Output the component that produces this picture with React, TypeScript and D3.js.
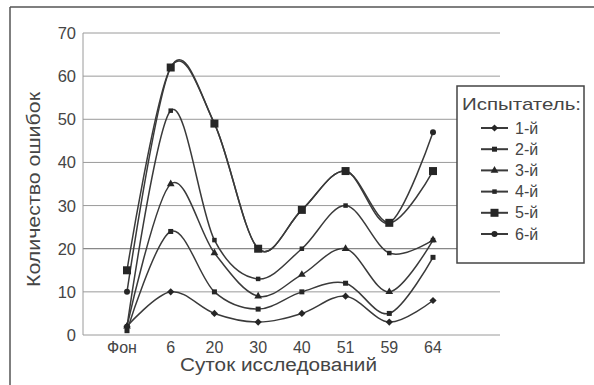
import React from "react";
import * as d3 from "d3";

const categories = ["Фон", "6", "20", "30", "40", "51", "59", "64"];
const yTicks = [0, 10, 20, 30, 40, 50, 60, 70];
const seriesNames = ["1-й", "2-й", "3-й", "4-й", "5-й", "6-й"];
const s1 = [2, 10, 5, 3, 5, 9, 3, 8];
const s2 = [1, 24, 10, 6, 10, 12, 5, 18];
const s3 = [2, 35, 19, 9, 14, 20, 10, 22];
const s4 = [2, 52, 22, 13, 20, 30, 19, 22];
const s5 = [15, 62, 49, 20, 29, 38, 26, 38];
const s6 = [10, 62, 49, 20, 29, 38, 26, 47];
const allSeries = [s1, s2, s3, s4, s5, s6];

const W = 594;
const H = 385;
const LEFT = 83;
const RIGHT = 500;
const TOP = 33;
const BOTTOM = 335;

const FONT = "'Liberation Sans', Arial, sans-serif";
const TEXT = "#454545";
const LINE = "#3a3a3a";
const MARK = "#262626";

function Marker({ idx, x, y }: { idx: number; x: number; y: number }) {
  if (idx === 0) {
    const r = 3.6;
    return <path d={`M${x},${y - r}L${x + r},${y}L${x},${y + r}L${x - r},${y}Z`} fill={MARK} />;
  }
  if (idx === 1 || idx === 3) {
    const s = idx === 1 ? 5 : 4.5;
    return <rect x={x - s / 2} y={y - s / 2} width={s} height={s} fill={MARK} />;
  }
  if (idx === 2) {
    const sym = d3.symbol().type(d3.symbolTriangle).size(26)();
    return <path d={sym || ""} transform={`translate(${x},${y})`} fill={MARK} />;
  }
  if (idx === 4) {
    const s = 8;
    return <rect x={x - s / 2} y={y - s / 2} width={s} height={s} fill={MARK} />;
  }
  return <circle cx={x} cy={y} r={3} fill={MARK} />;
}

export default function App() {
  const x = d3.scalePoint<string>().domain(categories).range([127, 433]);
  const y = d3.scaleLinear().domain([0, 70]).range([BOTTOM, TOP]);
  const line = d3
    .line<number>()
    .x((_, i) => x(categories[i]) as number)
    .y((v) => y(v))
    .curve(d3.curveCardinal.tension(0));

  const drawOrder = [0, 1, 2, 3, 5, 4];
  const legendX = 457;
  const legendY = 86;

  return (
    <svg
      width={W}
      height={H}
      style={{ position: "absolute", left: 0, top: 0, background: "#ffffff" }}
      fontFamily={FONT}
    >
      {/* outer frame (left and top edges) */}
      <line x1={10} y1={7} x2={W} y2={7} stroke="#555" strokeWidth={1.5} />
      <line x1={10} y1={7} x2={10} y2={H} stroke="#555" strokeWidth={1.5} />

      {/* gridlines */}
      {yTicks.map((t) => (
        <line
          key={"g" + t}
          x1={LEFT}
          x2={RIGHT}
          y1={y(t)}
          y2={y(t)}
          stroke={t === 20 ? "#6a6a6a" : "#9a9a9a"}
          strokeWidth={1}
        />
      ))}
      {/* y axis line */}
      <line x1={LEFT} x2={LEFT} y1={TOP} y2={BOTTOM} stroke="#9a9a9a" strokeWidth={1} />

      {/* y tick labels */}
      {yTicks.map((t) => (
        <text
          key={"yl" + t}
          x={76}
          y={y(t) + 6}
          textAnchor="end"
          fontSize={16.5}
          fill={TEXT}
        >
          {t}
        </text>
      ))}

      {/* x tick labels */}
      {categories.map((c) => (
        <text
          key={"xl" + c}
          x={(x(c) as number) + (c === "Фон" ? -5 : 0)}
          y={353}
          textAnchor="middle"
          fontSize={16}
          fill={TEXT}
        >
          {c}
        </text>
      ))}

      {/* axis titles */}
      <text
        x={180}
        y={371}
        fontSize={18}
        fill={TEXT}
        textLength={197}
        lengthAdjust="spacingAndGlyphs"
      >
        Суток исследований
      </text>
      <text
        transform={`translate(40,287) rotate(-90)`}
        fontSize={18}
        fill={TEXT}
        textLength={195}
        lengthAdjust="spacingAndGlyphs"
      >
        Количество ошибок
      </text>

      {/* series lines */}
      {drawOrder.map((i) => (
        <path
          key={"l" + i}
          d={line(allSeries[i]) || ""}
          fill="none"
          stroke={LINE}
          strokeWidth={1.5}
        />
      ))}
      {/* markers */}
      {drawOrder.map((i) =>
        allSeries[i].map((v, j) => (
          <Marker key={"m" + i + "-" + j} idx={i} x={x(categories[j]) as number} y={y(v)} />
        ))
      )}

      {/* legend */}
      <rect
        x={legendX}
        y={legendY}
        width={127}
        height={177}
        fill="#ffffff"
        stroke="#444"
        strokeWidth={1.5}
      />
      <text
        x={462}
        y={110}
        fontSize={17}
        fill={TEXT}
        textLength={119}
        lengthAdjust="spacingAndGlyphs"
      >
        Испытатель:
      </text>
      {seriesNames.map((n, i) => {
        const ly = 128 + i * 21.2;
        return (
          <g key={"lg" + i}>
            <line x1={481} x2={508} y1={ly} y2={ly} stroke={LINE} strokeWidth={2} />
            <Marker idx={i} x={494.5} y={ly} />
            <text x={515} y={ly + 5.5} fontSize={16} fill={TEXT}>
              {n}
            </text>
          </g>
        );
      })}
    </svg>
  );
}
